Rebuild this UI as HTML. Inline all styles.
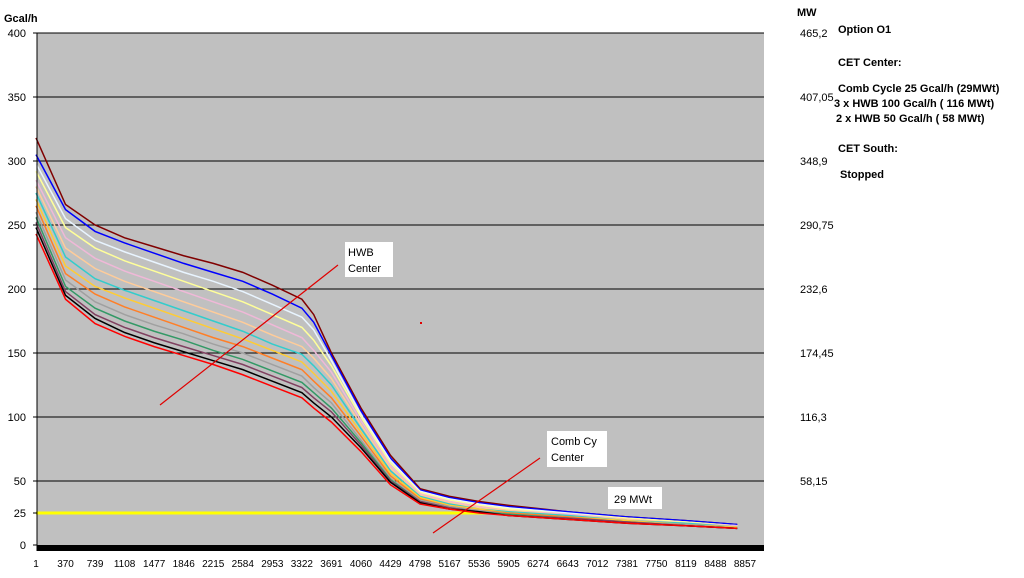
<!DOCTYPE html>
<html><head><meta charset="utf-8"><style>
body{margin:0;background:#fff;width:1024px;height:573px;overflow:hidden;font-family:"Liberation Sans",sans-serif}
svg text{font-family:"Liberation Sans",sans-serif}
</style></head><body>
<svg id="chart" width="1024" height="573" viewBox="0 0 1024 573" xmlns="http://www.w3.org/2000/svg">
<rect x="37" y="33" width="727" height="512" fill="#c0c0c0"/>
<g id="grid"></g>
<g id="series"></g>
<rect x="37" y="545" width="727" height="6" fill="#000"/>
<line x1="37" y1="33" x2="37" y2="551" stroke="#000"/>
<g id="yticks"></g><g id="xticks"></g><g id="rticks"></g>
<text x="4" y="22" font-size="11" font-weight="bold">Gcal/h</text>
<text x="797" y="16" font-size="11" font-weight="bold">MW</text>
<line x1="160" y1="405" x2="338" y2="265" stroke="#e00000" stroke-width="1.2"/>
<line x1="433" y1="533" x2="540" y2="458" stroke="#e00000" stroke-width="1.2"/>
<rect x="420" y="322" width="2" height="2" fill="#e00000"/>
<g><rect x="345" y="242" width="48" height="35" fill="#fff"/><text x="348" y="256" font-size="11">HWB</text><text x="348" y="272" font-size="11">Center</text></g>
<g><rect x="547" y="431" width="60" height="36" fill="#fff"/><text x="551" y="445" font-size="11">Comb Cy</text><text x="551" y="461" font-size="11">Center</text></g>
<g><rect x="608" y="487" width="54" height="22" fill="#fff"/><text x="614" y="503" font-size="11">29 MWt</text></g>
<g font-size="11" font-weight="bold">
<text x="838" y="33">Option    O1</text>
<text x="838" y="66">CET Center:</text>
<text x="838" y="92">Comb Cycle 25 Gcal/h (29MWt)</text>
<text x="834" y="107">3  x HWB 100 Gcal/h ( 116 MWt)</text>
<text x="836" y="122">2  x HWB 50 Gcal/h ( 58 MWt)</text>
<text x="838" y="152">CET South:</text>
<text x="840" y="178">Stopped</text>
</g>
</svg>
<script>
const xCats=[1,370,739,1108,1477,1846,2215,2584,2953,3322,3470,3691,4060,4429,4798,5167,5536,5905,6643,7381,8119,8760];
const xTickLabels=[1,370,739,1108,1477,1846,2215,2584,2953,3322,3691,4060,4429,4798,5167,5536,5905,6274,6643,7012,7381,7750,8119,8488,8857];
const yTickLabels=[0,25,50,100,150,200,250,300,350,400];
const rightTickValues=[50,100,150,200,250,300,350,400];
const rightTickLabels=["58,15","116,3","174,45","232,6","290,75","348,9","407,05","465,2"];
const seriesColors=["#800000","#0000ff","#e8f4ff","#ffff99","#f0b8d8","#ffcc99","#33cccc","#ffcc33","#ff7f27","#a0a0a0","#339966","#804060","#000000","#ff0000"];
const s0=[318,266,250,240,233,226,220,213,203,192,180,150,107,70,44,38,34,31,26,22,19,16];
const s1=[305,262,245,236,228,220,213,206,196,185,174,148,105,68,43,37,33,30,26,22,19,16];
const s2=[298,255,238,229,221,213,206,198,188,178,168,144,102,66,42,36,32,29,25,21,18,15];
const s3=[292,248,232,222,214,206,198,190,180,170,160,140,100,64,41,35,31,28,24,21,18,15];
const s4=[285,240,224,214,206,198,190,182,172,162,152,135,97,62,40,34,30,27,24,20,17,15];
const s5=[280,232,216,206,198,190,182,174,164,155,146,130,94,60,39,33,29,27,23,20,17,14];
const s6=[275,225,208,199,191,183,175,167,157,149,140,125,91,58,38,32,28,26,23,19,17,14];
const s7=[270,218,202,193,185,177,169,161,152,143,134,120,88,56,37,31,28,25,22,19,16,14];
const s8=[265,212,196,186,178,170,162,155,146,137,128,115,85,54,36,30,27,25,22,18,16,13];
const s9=[260,207,190,180,172,165,157,150,141,132,123,111,82,52,35,30,27,24,21,18,16,13];
const s10=[256,202,185,175,167,160,152,145,136,127,119,107,80,51,34,29,26,24,21,18,15,13];
const s11=[252,198,180,170,162,155,148,141,132,123,115,104,78,50,34,29,26,23,21,18,15,13];
const s12=[248,195,177,166,158,151,144,137,128,119,111,100,76,49,33,28,26,23,20,17,15,13];
const s13=[243,192,173,163,155,148,141,133,124,115,107,96,73,47,32,28,25,23,20,17,15,13];
const allSeries=[s0,s1,s2,s3,s4,s5,s6,s7,s8,s9,s10,s11,s12,s13];
const combCycleLevel=25, combCycleStart=1, combCycleEnd=6050;

const NS="http://www.w3.org/2000/svg";
const xPx=v=>36+(v-1)*(709/8856);
const yPx=v=>545-v*1.28;
function mk(tag,attrs,parent){const e=document.createElementNS(NS,tag);for(const k in attrs)e.setAttribute(k,attrs[k]);parent.appendChild(e);return e;}
const grid=document.getElementById('grid');
rightTickValues.forEach(v=>{const l=mk('line',{x1:37,x2:764,y1:yPx(v),y2:yPx(v),stroke:'#000'},grid);

});
const yt=document.getElementById('yticks');
yTickLabels.forEach(v=>{const t=mk('text',{x:26,y:yPx(v)+4,'font-size':11,'text-anchor':'end'},yt);t.textContent=v;


mk('line',{x1:33,x2:37,y1:yPx(v),y2:yPx(v),stroke:'#000'},yt);});
const rt=document.getElementById('rticks');
rightTickValues.forEach((v,i)=>{const t=mk('text',{x:800,y:yPx(v)+4,'font-size':11},rt);t.textContent=rightTickLabels[i];

});
const xt=document.getElementById('xticks');
xTickLabels.forEach(v=>{const t=mk('text',{x:xPx(v),y:567,'font-size':10,'text-anchor':'middle'},xt);t.textContent=v;

});
const sg=document.getElementById('series');
const yl=mk('line',{x1:xPx(combCycleStart),x2:xPx(combCycleEnd),y1:yPx(combCycleLevel),y2:yPx(combCycleLevel),stroke:'#ffff00','stroke-width':3},sg);


allSeries.forEach((s,i)=>{const p=mk('polyline',{points:s.map((v,j)=>xPx(xCats[j])+','+yPx(v)).join(' '),fill:'none',stroke:seriesColors[i],'stroke-width':1.5},sg);

});
</script>
</body></html>
